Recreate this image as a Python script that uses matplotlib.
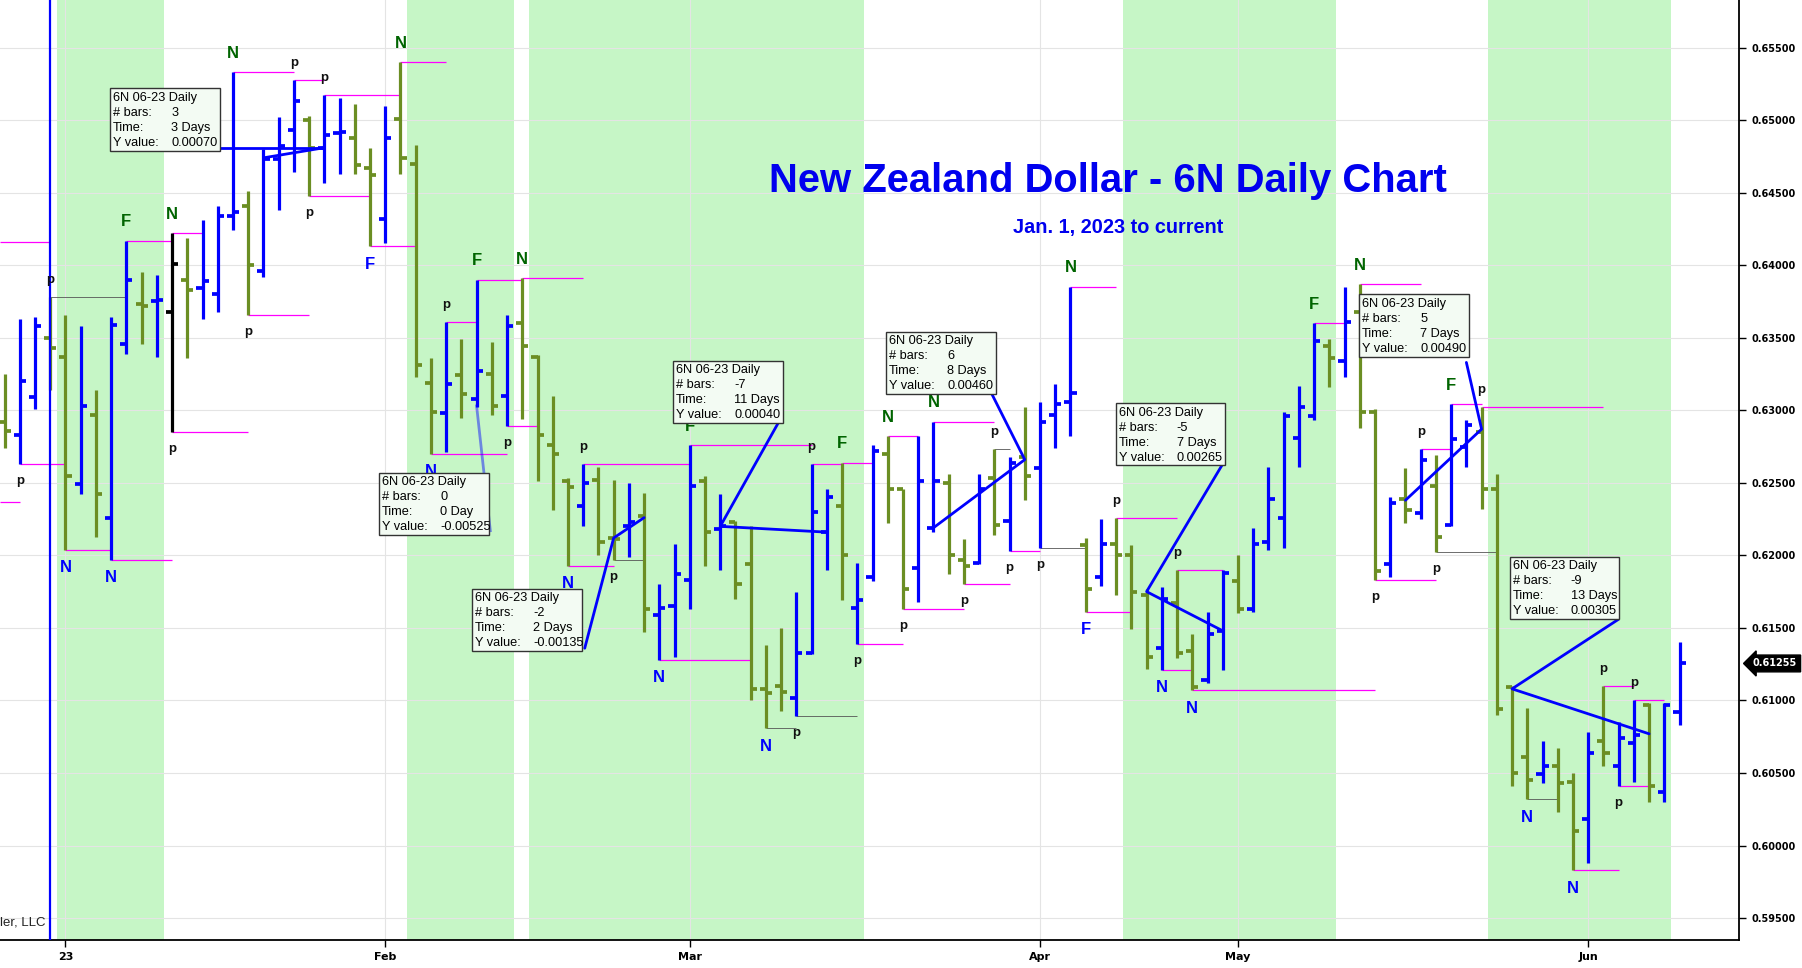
import matplotlib
matplotlib.use("Agg")
import matplotlib.pyplot as plt
from matplotlib.patches import Rectangle
import numpy as np

# daily OHLC bars, 6N 06-23
opens = [0.6292, 0.6283, 0.6309, 0.6350, 0.6337, 0.6249, 0.6297, 0.6226, 0.6346, 0.6373,
         0.6375, 0.6368, 0.6390, 0.6384, 0.6380, 0.6434, 0.6441, 0.6396, 0.6473, 0.6493,
         0.6500, 0.6481, 0.6491, 0.6488, 0.6467, 0.6432, 0.6501, 0.6470, 0.6319, 0.6298,
         0.6324, 0.6308, 0.6325, 0.6310, 0.6360, 0.6337, 0.6276, 0.6251, 0.6234, 0.6252,
         0.6212, 0.6220, 0.6227, 0.6159, 0.6165, 0.6183, 0.6251, 0.6218, 0.6223, 0.6194,
         0.6108, 0.6110, 0.6102, 0.6133, 0.6216, 0.6234, 0.6164, 0.6185, 0.6270, 0.6246,
         0.6191, 0.6219, 0.6250, 0.6197, 0.6195, 0.6253, 0.6224, 0.6268, 0.6260, 0.6297,
         0.6306, 0.6207, 0.6185, 0.6208, 0.6200, 0.6173, 0.6136, 0.6167, 0.6134, 0.6114,
         0.6148, 0.6182, 0.6163, 0.6209, 0.6226, 0.6281, 0.6296, 0.6344, 0.6334, 0.6368,
         0.6299, 0.6194, 0.6239, 0.6229, 0.6248, 0.6221, 0.6275, 0.6285, 0.6246, 0.6109,
         0.6061, 0.6049, 0.6055, 0.6044, 0.6018, 0.6072, 0.6055, 0.6071, 0.6097, 0.6037,
         0.6092]
highs = [0.6325, 0.6363, 0.6364, 0.6378, 0.6366, 0.6358, 0.6314, 0.6364, 0.6417, 0.6395,
         0.6393, 0.6422, 0.6419, 0.6431, 0.6441, 0.6533, 0.6451, 0.6480, 0.6502, 0.6528,
         0.6503, 0.6517, 0.6515, 0.6511, 0.6481, 0.6510, 0.6540, 0.6483, 0.6336, 0.6361,
         0.6349, 0.6390, 0.6347, 0.6366, 0.6391, 0.6338, 0.6310, 0.6253, 0.6263, 0.6261,
         0.6252, 0.6250, 0.6243, 0.6180, 0.6208, 0.6276, 0.6255, 0.6242, 0.6224, 0.6220,
         0.6138, 0.6150, 0.6175, 0.6263, 0.6246, 0.6264, 0.6195, 0.6276, 0.6282, 0.6246,
         0.6282, 0.6292, 0.6256, 0.6211, 0.6256, 0.6273, 0.6268, 0.6302, 0.6306, 0.6318,
         0.6385, 0.6212, 0.6225, 0.6226, 0.6207, 0.6177, 0.6178, 0.6190, 0.6146, 0.6161,
         0.6190, 0.6200, 0.6219, 0.6261, 0.6299, 0.6317, 0.6360, 0.6349, 0.6385, 0.6387,
         0.6301, 0.6240, 0.6260, 0.6273, 0.6269, 0.6304, 0.6293, 0.6302, 0.6256, 0.6110,
         0.6095, 0.6072, 0.6067, 0.6050, 0.6078, 0.6110, 0.6085, 0.6100, 0.6098, 0.6098,
         0.6140]
lows = [0.6274, 0.6263, 0.6301, 0.6314, 0.6204, 0.6242, 0.6213, 0.6197, 0.6339, 0.6346,
        0.6337, 0.6285, 0.6336, 0.6363, 0.6368, 0.6424, 0.6366, 0.6392, 0.6438, 0.6464,
        0.6448, 0.6457, 0.6463, 0.6463, 0.6413, 0.6415, 0.6463, 0.6323, 0.6270, 0.6271,
        0.6295, 0.6302, 0.6297, 0.6289, 0.6294, 0.6251, 0.6231, 0.6193, 0.6220, 0.6200,
        0.6197, 0.6199, 0.6147, 0.6128, 0.6130, 0.6163, 0.6193, 0.6190, 0.6170, 0.6100,
        0.6081, 0.6093, 0.6089, 0.6132, 0.6190, 0.6169, 0.6139, 0.6182, 0.6222, 0.6163,
        0.6168, 0.6216, 0.6187, 0.6180, 0.6194, 0.6214, 0.6203, 0.6238, 0.6205, 0.6274,
        0.6282, 0.6161, 0.6179, 0.6173, 0.6149, 0.6122, 0.6121, 0.6129, 0.6107, 0.6112,
        0.6121, 0.6160, 0.6161, 0.6204, 0.6205, 0.6261, 0.6293, 0.6316, 0.6323, 0.6288,
        0.6183, 0.6185, 0.6222, 0.6225, 0.6202, 0.6220, 0.6261, 0.6232, 0.6090, 0.6041,
        0.6032, 0.6043, 0.6023, 0.5983, 0.5988, 0.6055, 0.6041, 0.6044, 0.6030, 0.6030,
        0.6083]
closes = [0.6286, 0.6320, 0.6358, 0.6343, 0.6255, 0.6303, 0.6242, 0.6359, 0.6390, 0.6372,
          0.6376, 0.6401, 0.6383, 0.6389, 0.6434, 0.6437, 0.6400, 0.6473, 0.6482, 0.6513,
          0.6481, 0.6490, 0.6492, 0.6469, 0.6462, 0.6488, 0.6474, 0.6331, 0.6299, 0.6318,
          0.6311, 0.6327, 0.6303, 0.6358, 0.6344, 0.6283, 0.6270, 0.6247, 0.6250, 0.6209,
          0.6211, 0.6223, 0.6163, 0.6164, 0.6187, 0.6248, 0.6216, 0.6220, 0.6180, 0.6108,
          0.6105, 0.6106, 0.6133, 0.6230, 0.6240, 0.6200, 0.6169, 0.6272, 0.6246, 0.6177,
          0.6251, 0.6251, 0.6200, 0.6193, 0.6246, 0.6221, 0.6264, 0.6255, 0.6292, 0.6304,
          0.6312, 0.6177, 0.6208, 0.6200, 0.6175, 0.6130, 0.6170, 0.6133, 0.6109, 0.6146,
          0.6188, 0.6163, 0.6208, 0.6239, 0.6296, 0.6302, 0.6348, 0.6336, 0.6361, 0.6299,
          0.6189, 0.6236, 0.6231, 0.6266, 0.6213, 0.6280, 0.6290, 0.6246, 0.6094, 0.6050,
          0.6045, 0.6055, 0.6043, 0.6010, 0.6064, 0.6064, 0.6074, 0.6076, 0.6041, 0.6097,
          0.61255]
highlight_bar = 11          # bar drawn in black
marker_bar = 3              # blue vertical line

month_labels = ["23", "Feb", "Mar", "Apr", "May", "Jun"]
month_first_bar = [4, 25, 45, 68, 81, 104]

# shaded time windows (first bar, last bar)
shaded = [(4, 10), (27, 33), (35, 56), (74, 87), (98, 109)]

# pivot lines: from bar, to bar, which end of the bar, style (m = magenta, k = thin dark)
pivot_lines = [(1, 4, "L", "m"), (3, 8, "H", "k"), (4, 7, "L", "m"), (7, 11, "L", "m"),
               (8, 11, "H", "m"), (11, 13, "H", "m"), (11, 16, "L", "m"), (15, 19, "H", "m"),
               (16, 20, "L", "m"), (19, 21, "H", "m"), (20, 24, "L", "m"), (21, 26, "H", "m"),
               (24, 27, "L", "m"), (26, 29, "H", "m"), (28, 33, "L", "m"), (29, 31, "H", "m"),
               (31, 34, "H", "m"), (33, 35, "L", "m"), (34, 38, "H", "m"), (37, 40, "L", "m"),
               (38, 45, "H", "m"), (40, 42, "L", "k"), (43, 49, "L", "m"), (45, 53, "H", "m"),
               (50, 52, "L", "k"), (52, 56, "L", "k"), (53, 55, "H", "m"), (55, 57, "H", "m"),
               (56, 59, "L", "m"), (58, 60, "H", "m"), (59, 63, "L", "m"), (61, 65, "H", "m"),
               (63, 66, "L", "m"), (65, 66, "H", "k"), (66, 68, "L", "m"), (68, 71, "L", "k"),
               (70, 73, "H", "m"), (71, 74, "L", "m"), (73, 77, "H", "m"), (76, 78, "L", "m"),
               (77, 80, "H", "m"), (78, 90, "L", "m"), (86, 88, "H", "m"), (89, 93, "H", "m"),
               (90, 94, "L", "m"), (93, 95, "H", "m"), (94, 98, "L", "k"), (95, 97, "H", "m"),
               (97, 105, "H", "m"), (100, 102, "L", "k"), (103, 106, "L", "m"), (105, 107, "H", "m"),
               (106, 108, "L", "m"), (107, 109, "H", "m")]
# levels coming from bars left of the visible window: (price, ends at bar)
early_levels = [(0.6416, 3), (0.6237, 1)]

# swing letters: bar, letter, colour key, above high / below low
swing_marks = [(3, "p", "k", "H"), (1, "p", "k", "L"), (4, "N", "b", "L"), (7, "N", "b", "L"),
               (8, "F", "g", "H"), (11, "N", "g", "H"), (11, "p", "k", "L"), (15, "N", "g", "H"),
               (16, "p", "k", "L"), (19, "p", "k", "H"), (20, "p", "k", "L"), (21, "p", "k", "H"),
               (24, "F", "b", "L"), (26, "N", "g", "H"), (28, "N", "b", "L"), (29, "p", "k", "H"),
               (31, "F", "g", "H"), (34, "N", "g", "H"), (33, "p", "k", "L"), (38, "p", "k", "H"),
               (37, "N", "b", "L"), (40, "p", "k", "L"), (43, "N", "b", "L"), (45, "F", "g", "H"),
               (50, "N", "b", "L"), (52, "p", "k", "L"), (53, "p", "k", "H"), (55, "F", "g", "H"),
               (56, "p", "k", "L"), (58, "N", "g", "H"), (59, "p", "k", "L"), (61, "N", "g", "H"),
               (63, "p", "k", "L"), (65, "p", "k", "H"), (66, "p", "k", "L"), (68, "p", "k", "L"),
               (70, "N", "g", "H"), (71, "F", "b", "L"), (73, "p", "k", "H"), (76, "N", "b", "L"),
               (77, "p", "k", "H"), (78, "N", "b", "L"), (86, "F", "g", "H"), (89, "N", "g", "H"),
               (90, "p", "k", "L"), (93, "p", "k", "H"), (94, "p", "k", "L"), (95, "F", "g", "H"),
               (97, "p", "k", "H"), (100, "N", "b", "L"), (103, "N", "b", "L"), (105, "p", "k", "H"),
               (106, "p", "k", "L"), (107, "p", "k", "H")]

# bar/price measuring tool: drawn paths (bar, price) and their readout boxes
measure_paths = [[(14.0, 0.6481), (21.0, 0.6481)],
                 [(17.0, 0.6474), (21.0, 0.6481)],
                 [(38.1, 0.6136), (40.0, 0.6212), (42.0, 0.6226)],
                 [(50.9, 0.6293), (47.0, 0.6220), (54.0, 0.6216)],
                 [(64.8, 0.6312), (67.0, 0.6266), (61.0, 0.6219)],
                 [(80.0, 0.6263), (75.0, 0.6175), (80.0, 0.6148)],
                 [(92.0, 0.6238), (97.0, 0.6287), (96.0, 0.6333)],
                 [(106.0, 0.6156), (99.0, 0.6108), (108.0, 0.6077)]]
faded_paths = [[(31.0, 0.6303), (31.9, 0.6217)]]

tip_left = [6.93, 24.6, 30.7, 43.9, 57.9, 72.96, 88.96, 98.85]
tip_top = [0.6522, 0.6257, 0.6177, 0.6334, 0.6354, 0.6305, 0.6380, 0.6199]
tip_bars = ["3", "0", "-2", "-7", "6", "-5", "5", "-9"]
tip_time = ["3 Days", "0 Day", "2 Days", "11 Days", "8 Days", "7 Days", "7 Days", "13 Days"]
tip_yval = ["0.00070", "-0.00525", "-0.00135", "0.00040", "0.00460", "0.00265", "0.00490", "0.00305"]

last_price = 0.61255
y_ticks = [0.595, 0.600, 0.605, 0.610, 0.615, 0.620, 0.625, 0.630, 0.635, 0.640, 0.645, 0.650, 0.655]

UP = "#0000ff"
DOWN = "#6b8e23"
MARK_COLORS = {"k": "#111111", "b": "#0000ff", "g": "#006400"}

fig = plt.figure(figsize=(18.02, 9.68), dpi=100)
ax = fig.add_axes([0.0, 0.0294, 0.965, 0.9706])
ax.set_xlim(-0.3, 113.9)
ax.set_ylim(0.59352, 0.65828)

for first, last in shaded:
    ax.axvspan(first - 0.55, last + 0.45, color="#c6f6c6", lw=0, zorder=0.1)

x = np.arange(len(opens))
o = np.array(opens)
c = np.array(closes)
cols = [UP if cc >= oo else DOWN for oo, cc in zip(o, c)]
cols[highlight_bar] = "black"
tick = 0.4
ax.vlines(x, lows, highs, colors=cols, lw=2.3, zorder=3)
ax.hlines(o, x - tick, x, colors=cols, lw=2.7, zorder=3)
ax.hlines(c, x, x + tick, colors=cols, lw=2.7, zorder=3)

ax.axvline(marker_bar, color="#0000ff", lw=1.6, zorder=4)

# pivot lines
for start, end, side, style in pivot_lines:
    level = highs[start] if side == "H" else lows[start]
    if style == "m":
        ax.hlines(level, start, end, colors="#ff00ff", lw=0.9, zorder=2)
    else:
        ax.hlines(level, start, end, colors="#555555", lw=0.6, zorder=2)
for level, end in early_levels:
    ax.hlines(level, -0.3, end, colors="#ff00ff", lw=0.9, zorder=2)

# swing letters
for i, letter, ck, side in swing_marks:
    if side == "H":
        y, dy = highs[i], 17
    else:
        y, dy = lows[i], -17
    if letter == "p":
        ax.annotate(letter, (i, y), xytext=(0, dy), textcoords="offset pixels", ha="center",
                    va="center", color=MARK_COLORS[ck], fontsize=9.5, fontweight="bold",
                    family="Liberation Sans", zorder=5)
    else:
        ax.annotate(letter, (i, y), xytext=(0, dy + (2 if dy > 0 else -1)), textcoords="offset pixels",
                    ha="center", va="center", color=MARK_COLORS[ck], fontsize=12,
                    fontweight="bold", family="Liberation Sans", zorder=5)

# measuring tool
for path in measure_paths:
    px, py = zip(*path)
    ax.plot(px, py, color="#0000ff", lw=2.0, zorder=6, solid_capstyle="round")
for path in faded_paths:
    px, py = zip(*path)
    ax.plot(px, py, color="#0000ff", lw=2.0, alpha=0.45, zorder=6)

box_w = 7.2
box_h = 0.0043
for left, top, nb, tm, yv in zip(tip_left, tip_top, tip_bars, tip_time, tip_yval):
    ax.add_patch(Rectangle((left, top - box_h), box_w, box_h, facecolor="#f3fbf3",
                           edgecolor="#333333", lw=1.0, zorder=7))
    rows = [("6N 06-23 Daily", ""), ("# bars:", nb), ("Time:", tm), ("Y value:", yv)]
    for k, (lab, val) in enumerate(rows):
        ax.annotate(lab, (left, top), xytext=(3, -9.5 - 15 * k), textcoords="offset pixels",
                    ha="left", va="center", fontsize=9.2, family="Liberation Sans",
                    color="black", zorder=8)
        if val:
            ax.annotate(val, (left, top), xytext=(61, -9.5 - 15 * k), textcoords="offset pixels",
                        ha="left", va="center", fontsize=9.2, family="Liberation Sans",
                        color="black", zorder=8)

# titles
ax.text(0.6371, 0.796, "New Zealand Dollar - 6N Daily Chart", transform=ax.transAxes,
        ha="center", va="baseline", fontsize=28.8, fontweight="bold",
        family="Liberation Sans", color="#0000ee", zorder=9)
ax.text(0.6432, 0.7523, "Jan. 1, 2023 to current", transform=ax.transAxes,
        ha="center", va="baseline", fontsize=14.3, fontweight="bold",
        family="Liberation Sans", color="#0000ee", zorder=9)
ax.text(0.0, 0.0186, "ler, LLC", transform=ax.transAxes, ha="left", va="center",
        fontsize=9.5, family="Liberation Sans", color="#222222", zorder=9)

# axes styling
ax.set_axisbelow(True)
ax.grid(True, color="#e4e4e4", lw=0.8)
ax.set_xticks(month_first_bar)
ax.set_xticklabels(month_labels)
ax.set_yticks(y_ticks)
ax.set_yticklabels(["%.5f" % v for v in y_ticks])
ax.yaxis.tick_right()
ax.tick_params(axis="y", direction="out", length=5, width=1, pad=4, labelsize=7, colors="black")
ax.tick_params(axis="x", direction="out", length=5, width=1, pad=4, labelsize=8)
for lab in ax.get_xticklabels() + ax.get_yticklabels():
    lab.set_fontweight("bold")
for side in ["left", "top"]:
    ax.spines[side].set_visible(False)
for side in ["right", "bottom"]:
    ax.spines[side].set_linewidth(1.3)

ax.annotate("%.5f" % last_price, (1.0, last_price), xycoords=ax.get_yaxis_transform(),
            xytext=(14, 0), textcoords="offset pixels", ha="left", va="center",
            color="white", fontsize=7, fontweight="bold",
            bbox=dict(boxstyle="larrow,pad=0.35", fc="black", ec="black"),
            annotation_clip=False, zorder=10)

fig.savefig("out.png", dpi=100, facecolor="white")
